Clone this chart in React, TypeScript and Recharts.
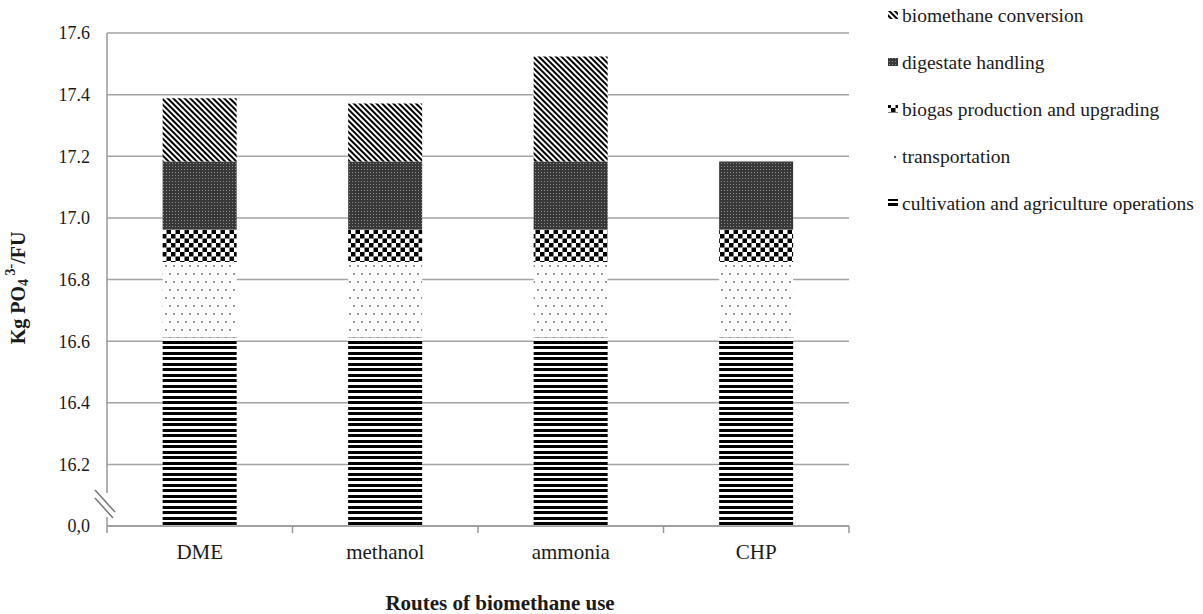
import React from 'react'
import { BarChart, Bar, XAxis, YAxis, CartesianGrid } from 'recharts'

// routes of biomethane use
const CATEGORIES = ['DME', 'methanol', 'ammonia', 'CHP']

// kg PO4 3- / FU per life cycle stage
const CULTIVATION = [16.612, 16.612, 16.612, 16.612]
const TRANSPORTATION = [0.245, 0.245, 0.245, 0.245]
const BIOGAS = [0.107, 0.107, 0.107, 0.107]
const DIGESTATE = [0.219, 0.219, 0.219, 0.219]
const CONVERSION = [0.205, 0.188, 0.341, 0]

const Y_TICKS = [16, 16.2, 16.4, 16.6, 16.8, 17.0, 17.2, 17.4, 17.6]

const SERIES = [
  { key: 'cultivation', name: 'cultivation and agriculture operations', pattern: 'pat-cult' },
  { key: 'transportation', name: 'transportation', pattern: 'pat-trans' },
  { key: 'biogas', name: 'biogas production and upgrading', pattern: 'pat-bio' },
  { key: 'digestate', name: 'digestate handling', pattern: 'pat-dig' },
  { key: 'conversion', name: 'biomethane conversion', pattern: 'pat-meth' },
]

const data = CATEGORIES.map((route, i) => ({
  route,
  cultivation: CULTIVATION[i],
  transportation: TRANSPORTATION[i],
  biogas: BIOGAS[i],
  digestate: DIGESTATE[i],
  conversion: CONVERSION[i],
}))

const FONT = '"Liberation Serif", "Times New Roman", serif'
const AXIS_GREY = '#999'

function YTick(props: any) {
  const { x, y, payload, index } = props
  const axisX = x + 17
  const label = payload.value === 16 ? '0,0' : Number(payload.value).toFixed(1)
  return (
    <g>
      {index === 0 && (
        <g>
          {/* axis break */}
          <rect x={axisX - 3} y={y - 33} width={6} height={24} fill="#fff" />
          <line x1={axisX - 12} y1={y - 36} x2={axisX + 8} y2={y - 14} stroke="#777" strokeWidth={1.5} />
          <line x1={axisX - 12} y1={y - 28} x2={axisX + 6} y2={y - 8} stroke="#777" strokeWidth={1.5} />
          <line x1={axisX} y1={y} x2={axisX} y2={y + 7} stroke={AXIS_GREY} strokeWidth={1.5} />
        </g>
      )}
      <text x={x} y={y} dy="0.355em" textAnchor="end" fontFamily={FONT} fontSize={18} fill="#1a1a1a">
        {label}
      </text>
    </g>
  )
}

function XTick(props: any) {
  const { x, y, payload, width } = props
  const step = (width || 742) / CATEGORIES.length
  const axisY = y - 18
  return (
    <g>
      <line x1={x + step / 2} x2={x + step / 2} y1={axisY} y2={axisY + 7} stroke={AXIS_GREY} strokeWidth={1.5} />
      <text x={x} y={y} dy="0.71em" textAnchor="middle" fontFamily={FONT} fontSize={21} fill="#1a1a1a">
        {payload.value}
      </text>
    </g>
  )
}

function Swatch({ k, pattern, cx, cy }: { k: string; pattern: string; cx: number; cy: number }) {
  if (k === 'transportation') return <circle cx={cx + 2} cy={cy + 1} r={1.2} fill="#555" />
  return <rect x={cx - 5} y={cy - 4} width={10} height={8} fill={`url(#${pattern})`} />
}

export default function App() {
  const legendItems = [...SERIES].reverse()
  return (
    <div style={{ position: 'absolute', left: 0, top: 0, width: 1203, height: 614, background: '#fff' }}>
      <BarChart
        width={1203}
        height={614}
        data={data}
        margin={{ top: 33, right: 354, bottom: 48, left: 0 }}
        barCategoryGap="30%"
      >
        <defs>
          <pattern id="pat-cult" patternUnits="userSpaceOnUse" width={10} height={11}>
            <rect width={10} height={11} fill="#fff" />
            <rect y={0} width={10} height={3} fill="#000" />
            <rect y={5} width={10} height={3} fill="#000" />
          </pattern>
          <pattern id="pat-trans" patternUnits="userSpaceOnUse" width={8} height={16}>
            <rect width={8} height={16} fill="#fff" />
            <circle cx={2} cy={2} r={1} fill="#777" />
            <circle cx={6} cy={10} r={1} fill="#777" />
          </pattern>
          <pattern id="pat-bio" patternUnits="userSpaceOnUse" width={9} height={9}>
            <rect width={9} height={9} fill="#fff" />
            <rect width={4.5} height={4.5} fill="#000" />
            <rect x={4.5} y={4.5} width={4.5} height={4.5} fill="#000" />
          </pattern>
          <pattern id="pat-dig" patternUnits="userSpaceOnUse" width={3} height={3}>
            <rect width={3} height={3} fill="#383838" />
            <rect x={1} y={1} width={1} height={1} fill="#8a8a8a" />
          </pattern>
          <pattern id="pat-meth" patternUnits="userSpaceOnUse" width={4} height={4} patternTransform="rotate(-45)">
            <rect width={4} height={4} fill="#fff" />
            <rect width={2} height={4} fill="#000" />
          </pattern>
        </defs>
        <CartesianGrid vertical={false} stroke="#a3a3a3" strokeWidth={1.5} />
        <XAxis
          dataKey="route"
          height={40}
          axisLine={{ stroke: AXIS_GREY, strokeWidth: 1.5 }}
          tickLine={false}
          tickSize={0}
          tickMargin={18}
          tick={<XTick />}
          interval={0}
        />
        <YAxis
          width={107}
          domain={[16, 17.6]}
          ticks={Y_TICKS}
          allowDataOverflow
          axisLine={{ stroke: AXIS_GREY, strokeWidth: 1.5 }}
          tickLine={false}
          tickSize={0}
          tickMargin={17}
          tick={<YTick />}
          interval={0}
        />
        {SERIES.map((s) => (
          <Bar
            key={s.key}
            dataKey={s.key}
            name={s.name}
            stackId="a"
            fill={`url(#${s.pattern})`}
            isAnimationActive={false}
          />
        ))}
        <text
          x={500}
          y={610}
          textAnchor="middle"
          fontFamily={FONT}
          fontSize={21}
          fontWeight="bold"
          fill="#1a1a1a"
        >
          Routes of biomethane  use
        </text>
        <text
          transform="translate(18, 288) rotate(-90)"
          textAnchor="middle"
          dominantBaseline="central"
          fontFamily={FONT}
          fontSize={20}
          fontWeight="bold"
          fill="#1a1a1a"
        >
          Kg PO<tspan fontSize={14} dy={5}>4</tspan>
          <tspan fontSize={14} dy={-13}> 3-</tspan>
          <tspan dy={8}>/FU</tspan>
        </text>
        <g>
          {legendItems.map((s, i) => {
            const cy = 15 + i * 47
            return (
              <g key={s.key}>
                <Swatch k={s.key} pattern={s.pattern} cx={893} cy={cy} />
                <text x={902} y={cy} dy="0.35em" fontFamily={FONT} fontSize={19.5} fill="#1a1a1a">
                  {s.name}
                </text>
              </g>
            )
          })}
        </g>
      </BarChart>
    </div>
  )
}
